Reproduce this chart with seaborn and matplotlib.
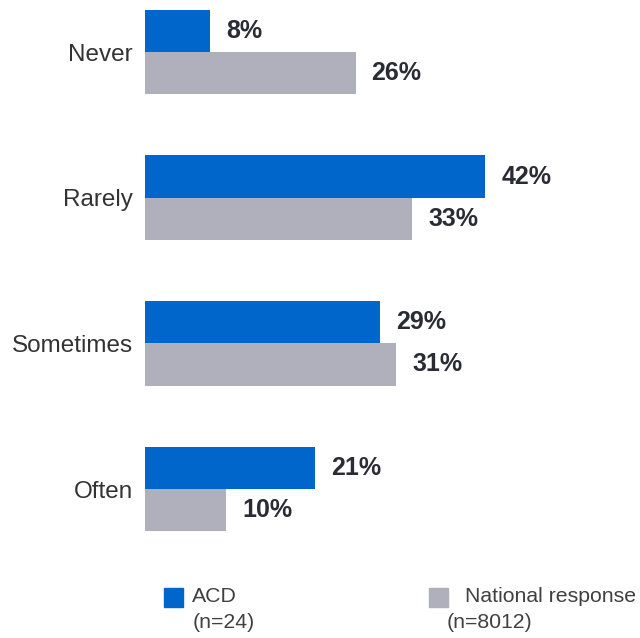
import pandas as pd
import matplotlib
matplotlib.use('Agg')
import matplotlib.pyplot as plt
from matplotlib.patches import Rectangle
import seaborn as sns

# Dữ liệu
categories = ['Never', 'Rarely', 'Sometimes', 'Often']
acd = [8, 42, 29, 21]
national = [26, 33, 31, 10]
series = ['ACD', 'National response']
series_notes = ['(n=24)', '(n=8012)']
colors = ['#0066CC', '#B0B0BC']

df = pd.DataFrame({
    'category': categories * 2,
    'value': acd + national,
    'series': [series[0]] * 4 + [series[1]] * 4,
})

sns.set_style('white')
plt.rcParams['font.family'] = ['Liberation Sans', 'DejaVu Sans']

fig = plt.figure(figsize=(6.4, 6.38), dpi=100)
ax = fig.add_axes([145 / 640, 78 / 638, 486 / 640, 560 / 638])

sns.barplot(data=df, x='value', y='category', hue='series', order=categories,
            hue_order=series, palette=colors, width=0.58, saturation=1,
            orient='h', legend=False, linewidth=0, ax=ax)

ax.set_xlim(0, 60)
ax.set_ylim(3.487, -0.357)

for cont in ax.containers:
    ax.bar_label(cont, labels=[f'{v:.0f}%' for v in cont.datavalues],
                 padding=11.5, fontsize=18, fontweight='bold', color='#2B2B35')

ax.set_xlabel('')
ax.set_ylabel('')
ax.set_xticks([])
ax.tick_params(axis='y', length=0, pad=8.6, labelsize=17.5, labelcolor='#333333')
sns.despine(ax=ax, left=True, bottom=True)

# Chú thích
leg_x = [164, 429]
text_x = [192, 465]
note_x = [193, 447]
for i in range(2):
    fig.patches.append(Rectangle((leg_x[i] / 640, 1 - 607 / 638), 19 / 640, 19 / 638,
                                 transform=fig.transFigure, color=colors[i]))
    fig.text(text_x[i] / 640, 1 - 597 / 638, series[i], fontsize=15.3,
             color='#404040', va='center', ha='left')
    fig.text(note_x[i] / 640, 1 - 623 / 638, series_notes[i], fontsize=15.3,
             color='#404040', va='center', ha='left')

fig.savefig('out.png', dpi=100)
